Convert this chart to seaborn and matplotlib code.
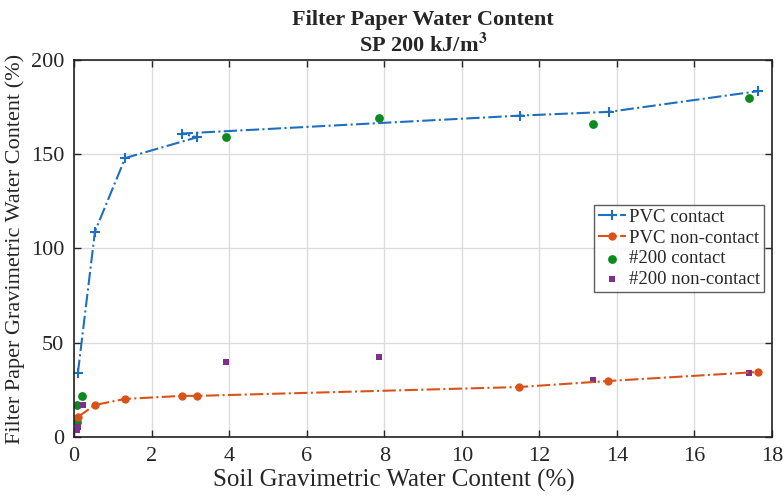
import matplotlib
matplotlib.use("Agg")
import matplotlib.pyplot as plt
import seaborn as sns
import pandas as pd

# Data
pvc_contact_x = [0.10, 0.54, 1.32, 3.17, 2.79, 11.5, 13.8, 17.65]
pvc_contact_y = [34, 109, 148, 159, 161, 170.5, 172.5, 183.5]

pvc_noncontact_x = [0.10, 0.54, 1.32, 2.79, 3.17, 11.48, 13.78, 17.65]
pvc_noncontact_y = [10.6, 17, 20.2, 21.8, 21.8, 26.5, 29.7, 34.5]

s200_contact_x = [0.08, 0.21, 0.07, 3.92, 7.87, 13.39, 17.4]
s200_contact_y = [17, 22, 8, 159, 169, 166, 180]

s200_noncontact_x = [0.23, 0.10, 0.07, 3.92, 7.87, 13.39, 17.4]
s200_noncontact_y = [17, 5.3, 3.7, 40, 42.4, 30.2, 33.9]

x_ticks = [0, 2, 4, 6, 8, 10, 12, 14, 16, 18]
y_ticks = [0, 50, 100, 150, 200]

sns.set_style("ticks")
plt.rcParams['font.family'] = ['Liberation Serif', 'DejaVu Serif']
plt.rcParams['mathtext.fontset'] = 'stix'

fig = plt.figure(figsize=(7.84, 4.96), dpi=100)
ax = fig.add_axes([0.0944, 0.119, 0.8903, 0.760])

df_pc = pd.DataFrame({"x": pvc_contact_x, "y": pvc_contact_y})
df_pn = pd.DataFrame({"x": pvc_noncontact_x, "y": pvc_noncontact_y})
df_sc = pd.DataFrame({"x": s200_contact_x, "y": s200_contact_y})
df_sn = pd.DataFrame({"x": s200_noncontact_x, "y": s200_noncontact_y})

blue = "#1f6fbf"
orange = "#D95319"
green = "#0a8a1f"
purple = "#7E2F8E"

sns.lineplot(data=df_pc, x="x", y="y", sort=False, estimator=None, ax=ax,
             color=blue, linestyle="-.", linewidth=1.5, marker="+",
             markersize=7, markeredgewidth=1.5, markeredgecolor=blue,
             label="PVC contact")
sns.lineplot(data=df_pn, x="x", y="y", sort=False, estimator=None, ax=ax,
             color=orange, linestyle="-.", linewidth=1.5, marker="o",
             markersize=6, markeredgewidth=0, label="PVC non-contact")
sns.scatterplot(data=df_sc, x="x", y="y", ax=ax, color=green, marker="o",
                s=40, linewidth=0, label="#200 contact")
sns.scatterplot(data=df_sn, x="x", y="y", ax=ax, color=purple, marker="s",
                s=22, linewidth=0, label="#200 non-contact")

ax.set_xlim(0, 18)
ax.set_ylim(0, 200)
ax.set_xticks(x_ticks)
ax.set_yticks(y_ticks)
ax.grid(True, color="#dcdcdc", linewidth=1.0)
ax.set_axisbelow(True)
ax.tick_params(direction="in", top=True, right=True, labelsize=16,
               length=5, width=1, pad=7)
for s in ax.spines.values():
    s.set_color("#222222")
    s.set_linewidth(1.2)

ax.set_xlabel("Soil Gravimetric Water Content (%)", fontsize=18, labelpad=0)
ax.xaxis.set_label_coords(0.458, -0.085)
ax.set_ylabel("Filter Paper Gravimetric Water Content (%)", fontsize=16, labelpad=4)
ax.set_title("Filter Paper Water Content\nSP 200 kJ/m$^\\mathbf{3}$",
             fontsize=16, fontweight="bold", pad=6, linespacing=1.2)

leg = ax.legend(loc="center right", bbox_to_anchor=(0.9885, 0.5), fontsize=13.5,
                frameon=True, fancybox=False, borderpad=0.2, labelspacing=0.2,
                handlelength=1.5, handletextpad=0.15, borderaxespad=0.0)
leg.get_frame().set_edgecolor("#333333")
leg.get_frame().set_linewidth(1.0)

fig.savefig("out.png", dpi=100)
